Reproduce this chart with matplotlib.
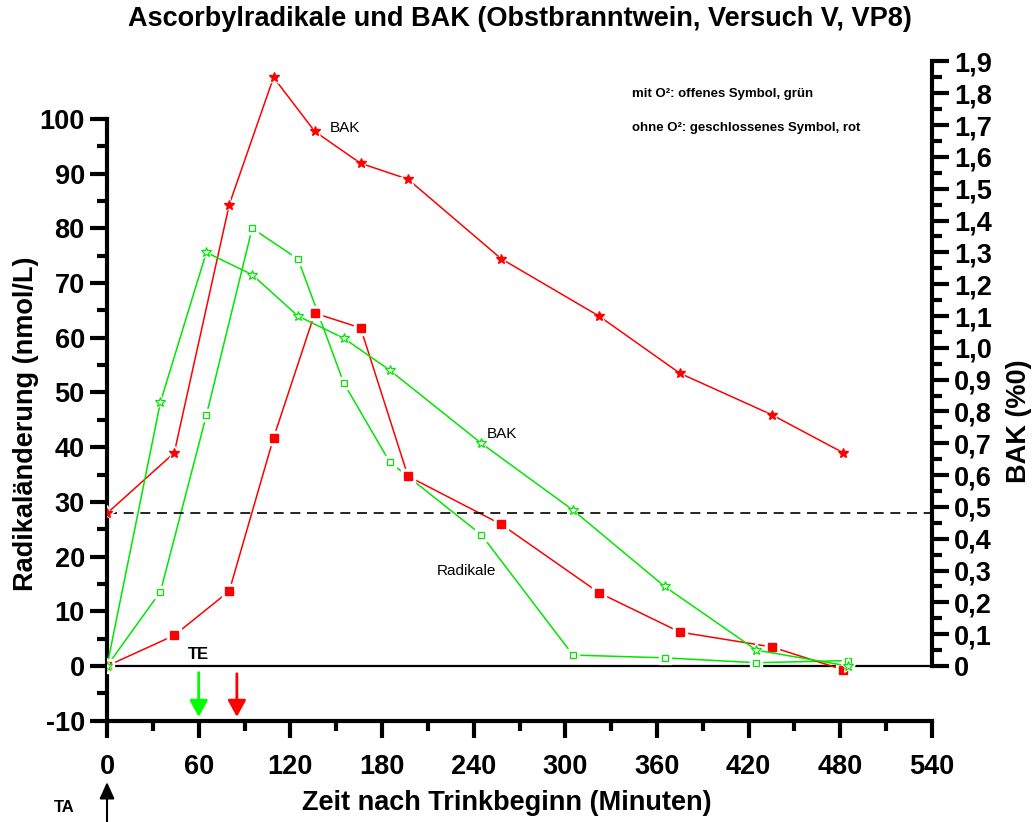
import numpy as np
import matplotlib
matplotlib.use('Agg')
import matplotlib.pyplot as plt
from matplotlib.ticker import FixedLocator, FuncFormatter

plt.rcParams['font.family'] = ['Liberation Sans', 'DejaVu Sans']
plt.rcParams['axes.unicode_minus'] = False

# Zeitpunkte (Minuten) und Messwerte
t_rot = [0, 44, 80, 109, 136, 166, 197, 258, 322, 375, 435, 482]
rad_rot = [0, 5.6, 13.7, 41.7, 64.5, 61.8, 34.7, 25.9, 13.4, 6.2, 3.5, -0.7]
bak_rot = [0.48, 0.67, 1.45, 1.85, 1.68, 1.58, 1.53, 1.28, 1.10, 0.92, 0.79, 0.67]

t_gruen = [0, 35, 65, 95, 125, 155, 185, 245, 305, 365, 425, 485]
rad_gruen = [0, 13.6, 45.8, 80.0, 74.4, 51.7, 37.3, 24.0, 2.0, 1.5, 0.6, 1.0]
bak_gruen = [0, 0.83, 1.30, 1.23, 1.10, 1.03, 0.93, 0.70, 0.49, 0.25, 0.05, 0.0]

bak_start = 0.48      # gestrichelte Linie
te_gruen = 60         # Trinkende
te_rot = 85

x_ticks = np.arange(0, 541, 60)

ROT = '#ff0000'
GRUEN = '#00e600'

fig = plt.figure(figsize=(10.36, 8.22), dpi=100)
ax = fig.add_axes([0.1033, 0.1232, 0.7963, 0.802])
ax2 = ax.twinx()

y_top = 110.5
k = 1.9 / y_top
ax.set_xlim(0, 540)
ax.set_ylim(-10, y_top)


def kurve(a, x, y, color, marker, ms, filled):
    a.plot(x, y, color=color, lw=1.1, zorder=2)
    a.plot(x, y, ls='none', marker=marker, ms=ms + 4, color='white', mec='white', zorder=3)
    if filled:
        a.plot(x, y, ls='none', marker=marker, ms=ms, color=color, mec=color, zorder=4)
    else:
        a.plot(x, y, ls='none', marker=marker, ms=ms, mfc='white', mec=color, mew=0.9, zorder=4)


kurve(ax2, t_rot, bak_rot, ROT, '*', 7.5, True)
kurve(ax2, t_gruen, bak_gruen, GRUEN, '*', 7, False)
kurve(ax, t_gruen, rad_gruen, GRUEN, 's', 5, False)
kurve(ax, t_rot, rad_rot, ROT, 's', 5.5, True)

ax.axhline(0, color='black', lw=1.6, zorder=1)
ax2.axhline(bak_start, color='black', lw=1.2, dashes=[6, 4], zorder=1)

# Achsen
for s in ['top', 'right']:
    ax.spines[s].set_visible(False)
for s in ['top', 'left', 'bottom']:
    ax2.spines[s].set_visible(False)
ax.spines['left'].set_bounds(-10, 100)
ax2.spines['right'].set_bounds(0, 1.9)
for sp in [ax.spines['left'], ax.spines['bottom'], ax2.spines['right']]:
    sp.set_linewidth(3)

ax.set_xticks(x_ticks)
ax.xaxis.set_minor_locator(FixedLocator(np.arange(30, 540, 60)))
ax.set_yticks(np.arange(-10, 101, 10))
ax.yaxis.set_minor_locator(FixedLocator(np.arange(-5, 100, 10)))
ax2.set_yticks(np.round(np.arange(0, 1.91, 0.1), 1))
ax2.yaxis.set_minor_locator(FixedLocator(np.arange(0.05, 1.9, 0.1)))
ax2.set_ylim(-10 * k, 1.9)


def komma(v, pos):
    if abs(v) < 1e-9:
        return '0'
    return f'{v:.1f}'.replace('.', ',')


ax2.yaxis.set_major_formatter(FuncFormatter(komma))

for a in [ax, ax2]:
    a.tick_params(which='major', length=12, width=3, labelsize=19.5, pad=4)
    a.tick_params(which='minor', length=7, width=3)
for lab in ax.get_xticklabels() + ax.get_yticklabels() + ax2.get_yticklabels():
    lab.set_fontweight('bold')
ax.tick_params(axis='x', which='major', pad=12)

ax.set_xlabel('Zeit nach Trinkbeginn (Minuten)', fontsize=19.5, fontweight='bold')
ax.xaxis.set_label_coords(0.485, -0.105)
ax.set_ylabel('Radikaländerung (nmol/L)', fontsize=19.5, fontweight='bold')
ax.yaxis.set_label_coords(-0.082, 0.45)
ax2.set_ylabel('BAK (%0)', fontsize=19.5, fontweight='bold')
ax2.yaxis.set_label_coords(1.09, 0.455)

fig.suptitle('Ascorbylradikale und BAK (Obstbranntwein, Versuch V, VP8)',
             fontsize=19.5, fontweight='bold', y=0.977, va='center', x=0.502)

# Beschriftungen im Diagramm
ax.text(146, 98.4, 'BAK', fontsize=11, va='center', ha='left')
ax.text(248.5, 42.5, 'BAK', fontsize=11, va='center', ha='left')
ax.text(215.7, 17.3, 'Radikale', fontsize=11, va='center', ha='left')
ax.text(343.5, 104.5, 'mit O²: offenes Symbol, grün', fontsize=9.5,
        fontweight='bold', va='center', ha='left')
ax.text(343.5, 98.4, 'ohne O²: geschlossenes Symbol, rot', fontsize=9.5,
        fontweight='bold', va='center', ha='left')

ax.text(te_gruen, 2.1, 'TE', fontsize=12, fontweight='bold', ha='center', va='center')
ax.annotate('', xy=(te_gruen, -9.3), xytext=(te_gruen, -1.2),
            arrowprops=dict(arrowstyle='-|>,head_length=1.0,head_width=0.55',
                            color='#00ff00', lw=2, shrinkA=0, shrinkB=0))
ax.annotate('', xy=(te_rot, -9.3), xytext=(te_rot, -1.4),
            arrowprops=dict(arrowstyle='-|>,head_length=1.0,head_width=0.55',
                            color=ROT, lw=2, shrinkA=0, shrinkB=0))

ax.annotate('', xy=(0, -0.093), xytext=(0, -0.16), xycoords=('data', 'axes fraction'),
            textcoords=('data', 'axes fraction'), annotation_clip=False,
            arrowprops=dict(arrowstyle='-|>,head_length=1.0,head_width=0.45',
                            color='black', lw=1.5, shrinkA=0, shrinkB=0))
ax.text(-27.7, -0.132, 'TA', fontsize=12, fontweight='bold', ha='center', va='center',
        transform=ax.get_xaxis_transform(), clip_on=False)

fig.savefig('out.png', dpi=100)
